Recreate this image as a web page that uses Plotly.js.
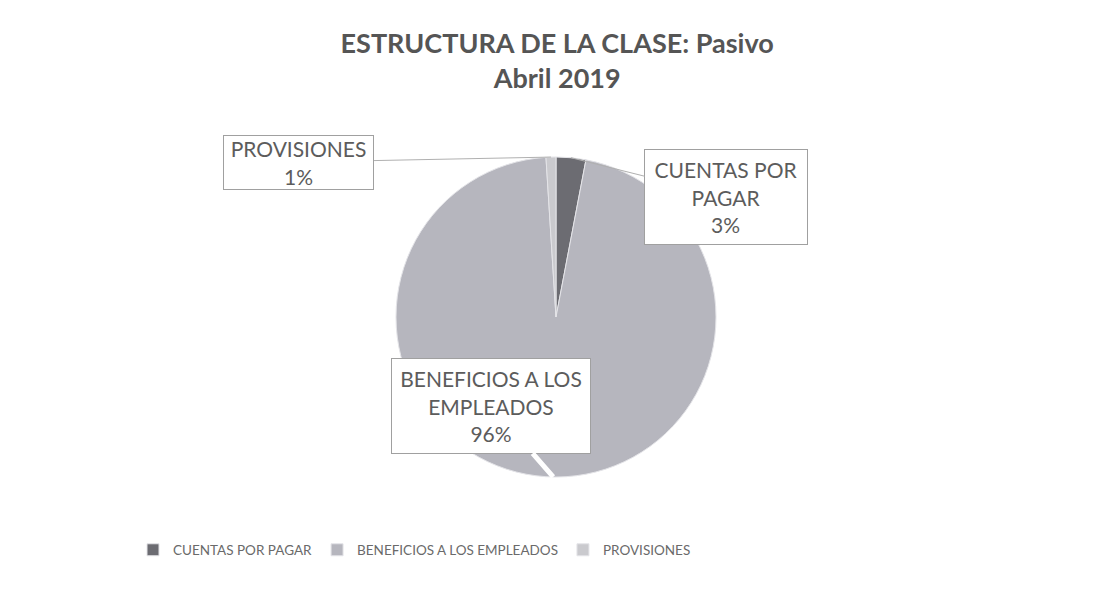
<!DOCTYPE html>
<html>
<head>
<meta charset="utf-8">
<script src="https://cdn.plot.ly/plotly-3.0.1.min.js"></script>
<style>html,body{margin:0;padding:0;background:#fff;}#chart{width:1099px;height:591px;}</style>
</head>
<body>
<div id="chart"></div>
<script>
const categories = ["CUENTAS POR PAGAR", "BENEFICIOS A LOS EMPLEADOS", "PROVISIONES"];
const values = [3, 96, 1];
const labelText = ["CUENTAS POR<br>PAGAR", "BENEFICIOS A LOS<br>EMPLEADOS", "PROVISIONES"];
const colors = ["#6c6c72", "#b6b6be", "#cacace"];

const FONT = 'Lato, "Open Sans", sans-serif';

// pie geometry (paper fractions)
const cx = 556 / 1099, cy = 1 - 317 / 591;
const rx = 160 / 1099, ry = 160 / 591;

const total = values.reduce((a, b) => a + b, 0);
function edgePoint(i, frac, rad) {
  let before = 0;
  for (let k = 0; k < i; k++) before += values[k];
  const mid = (before + values[i] * frac) / total * 2 * Math.PI;
  return [cx + rx * rad * Math.sin(mid), cy + ry * rad * Math.cos(mid)];
}

const labelOffsets = [[155, 39], [-62, -71], [-252, 5]];
const labelFrac = [0.5, 0.4925, 0.5];
const labelRadial = [1, 1, 1];
const boxSize = [[160, 92], [196, 92], [147, 51]];
const leaderStyle = [['#b0b0b0', 1], ['#ffffff', 5], ['#b0b0b0', 1]];

const annotations = categories.map((c, i) => {
  const [x, y] = edgePoint(i, labelFrac[i], labelRadial[i]);
  return {
    xref: 'paper', yref: 'paper', x: x, y: y,
    text: labelText[i] + '<br>' + Math.round(values[i] / total * 100) + '%',
    showarrow: true, arrowhead: 0,
    arrowcolor: leaderStyle[i][0], arrowwidth: leaderStyle[i][1],
    ax: labelOffsets[i][0], ay: labelOffsets[i][1],
    width: boxSize[i][0], height: boxSize[i][1],
    bgcolor: '#ffffff', bordercolor: '#a0a0a0', borderwidth: 1, borderpad: 1,
    font: {family: FONT, size: 21, color: '#5c5c5c'},
    align: 'center', valign: 'middle'
  };
});

const data = [{
  type: 'pie',
  labels: categories,
  values: values,
  sort: false,
  direction: 'clockwise',
  rotation: 0,
  textinfo: 'none',
  hoverinfo: 'label+percent',
  marker: {colors: colors, line: {color: '#e4e4e8', width: 1}},
  domain: {x: [cx - rx, cx + rx], y: [cy - ry, cy + ry]}
}];

const layout = {
  width: 1099, height: 591,
  margin: {l: 0, r: 0, t: 0, b: 0},
  paper_bgcolor: '#ffffff',
  title: {
    text: '<b>ESTRUCTURA DE LA CLASE: Pasivo<br>Abril 2019</b>',
    x: 0.507, xanchor: 'center', y: 1 - 53 / 591, yanchor: 'top', yref: 'container',
    font: {family: FONT, size: 27, color: '#555555'}
  },
  showlegend: true,
  legend: {
    orientation: 'h', x: 133 / 1099, xanchor: 'left', y: 1 - 550 / 591, yanchor: 'middle',
    font: {family: FONT, size: 13.5, color: '#6a6a6a'},
    itemwidth: 30, traceorder: 'normal'
  },
  annotations: annotations
};

Plotly.newPlot('chart', data, layout, {displayModeBar: false, staticPlot: true});
</script>
</body>
</html>
